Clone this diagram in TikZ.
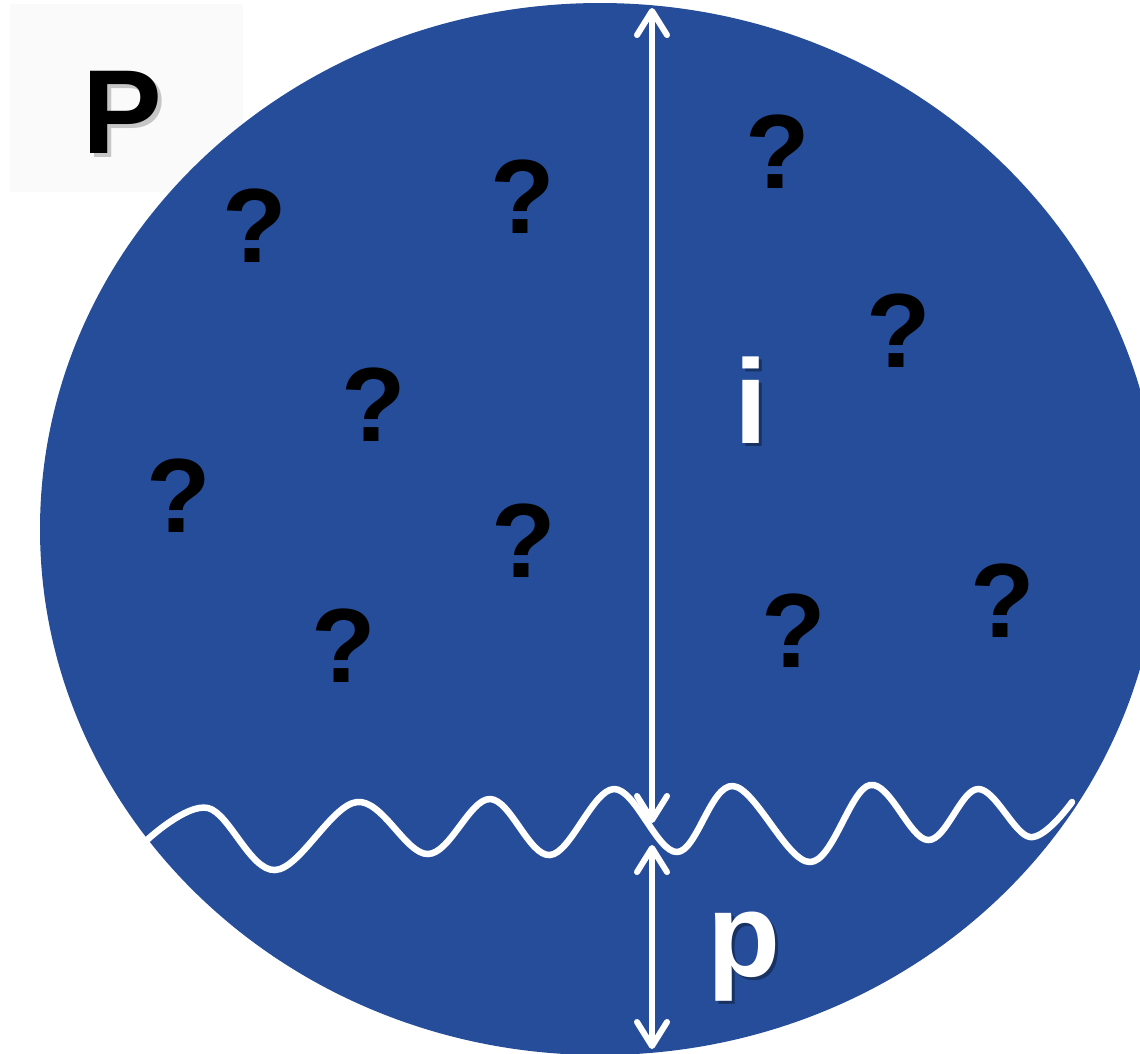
\documentclass[tikz,border=0pt]{standalone}
\usepackage{fontspec}
\setmainfont{Liberation Sans}
\usetikzlibrary{arrows.meta}
\definecolor{discblue}{RGB}{38,77,154}

\begin{document}
\begin{tikzpicture}[
	x=0.01cm, y=-0.01cm,
	disc/.style={fill=discblue, draw=none},
	qmark/.style={font=\fontsize{30}{34}\selectfont\bfseries, text=black, inner sep=0pt},
	biglbl/.style={font=\fontsize{34}{40}\selectfont\bfseries, inner sep=0pt},
	shade/.style={opacity=0.35},
	dimarr/.style={{Straight Barb[length=0.24cm,width=0.3cm,round]}-{Straight Barb[length=0.24cm,width=0.3cm,round]},
		line width=0.06cm, white},
	wave/.style={line width=0.065cm, white, line cap=round, line join=round}
]
\useasboundingbox (0,0) rectangle (1140,1053);
\clip (0,0) rectangle (1140,1053);

% label box and disc
\fill[black!2] (10,4) rectangle (243,192);
\fill[disc] (600,529) ellipse [x radius=560, y radius=526];

\node[biglbl, black!60, shade] (Pshadow) at (126,116) {P};
\node[biglbl, black] (Plbl) at (122,112) {P};

% question marks
\foreach \n/\px/\py in {a/255/226, b/523/197, c/778/152, d/899/331, e/374/405,
	f/179/496, g/524/541, h/794/631, k/1003/601, m/344/646}
	\node[qmark] (q\n) at (\px,\py) {?};

% wave boundary
\draw[wave] plot[smooth, tension=0.6] coordinates {
	(147,840) (208,808) (275,870) (357,802) (428,854) (490,799) (550,855)
	(614,789) (677,852) (733,786) (810,862) (870,785) (928,840) (978,789)
	(1030,837) (1072,802)};

% distances
\coordinate (itop) at (652,8);
\coordinate (ibot) at (652,823);
\coordinate (ptop) at (652,845);
\coordinate (pbot) at (652,1049);
\draw[dimarr] (itop) -- (ibot);
\draw[dimarr] (ptop) -- (pbot);

\node[biglbl, black, shade] (ishadow) at (754,403) {i};
\node[biglbl, white] (ilbl) at (751,400) {i};
\node[biglbl, black, shade] (pshadow) at (747,960) {p};
\node[biglbl, white] (plbl) at (744,957) {p};

\end{tikzpicture}
\end{document}
